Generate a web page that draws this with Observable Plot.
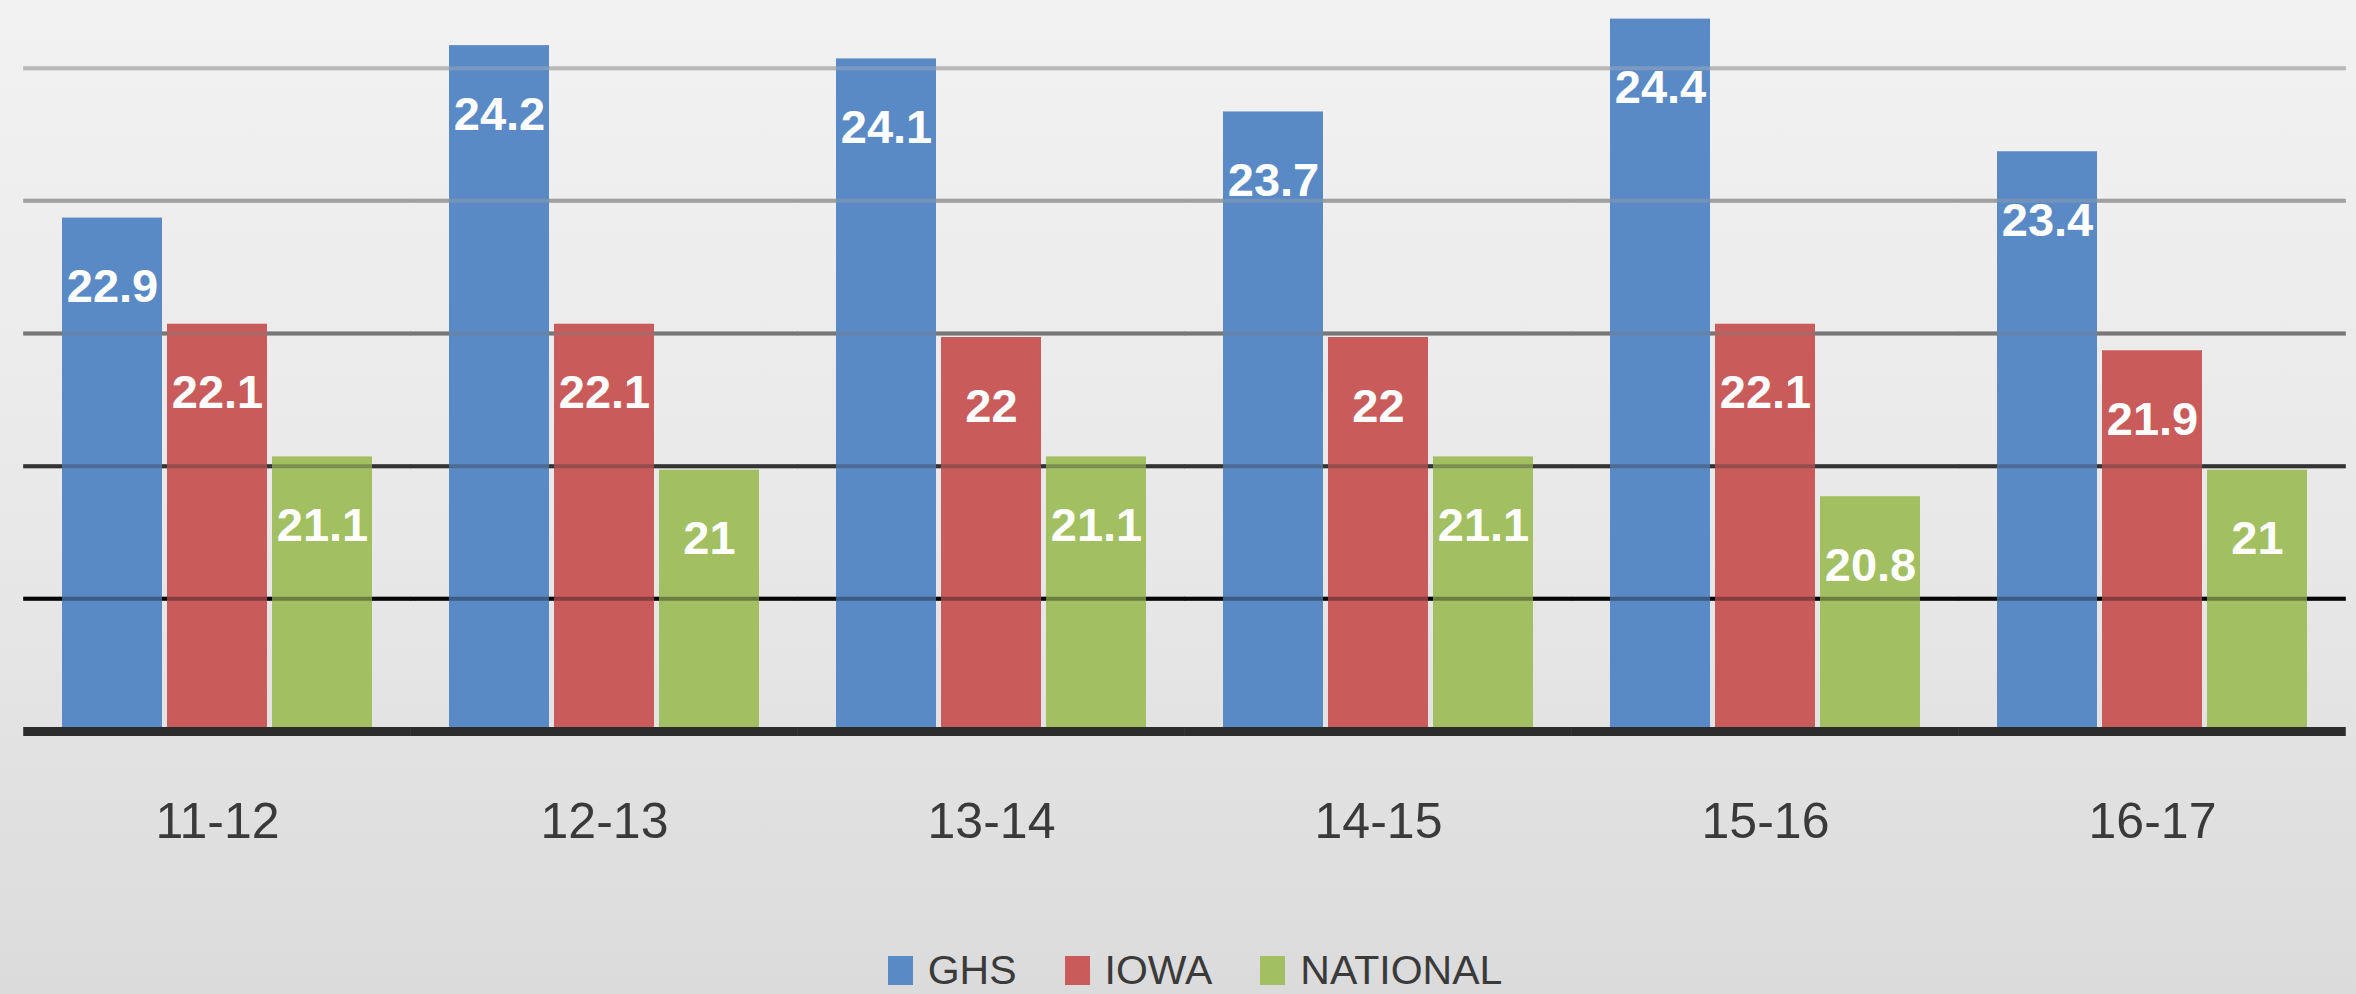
<!DOCTYPE html>
<html>
<head>
<meta charset="utf-8">
<script src="https://cdn.jsdelivr.net/npm/d3@7"></script>
<script src="https://cdn.jsdelivr.net/npm/@observablehq/plot@0.6"></script>
<style>
  html, body { margin: 0; padding: 0; width: 2356px; height: 994px; overflow: hidden; }
  body {
    background: linear-gradient(to bottom, #f2f2f2 0%, #e8e8e8 55%, #dbdbdb 100%);
    font-family: "Liberation Sans", Arial, sans-serif;
  }
  #chart svg { display: block; background: transparent; }
  #legend {
    display: flex; justify-content: center; align-items: flex-start;
    height: 114px; box-sizing: border-box; padding-left: 34px; padding-top: 70px;
    font-size: 41px; line-height: 41px; color: #3a3a3a;
  }
  .item { display: flex; align-items: center; margin-right: 48px; }
  .item:last-child { margin-right: 0; }
  .sw { width: 25px; height: 29px; margin-right: 15px; }
</style>
</head>
<body>
<div id="chart"></div>
<div id="legend"></div>
<script>
// ---- data ----
const seasons = ["11-12", "12-13", "13-14", "14-15", "15-16", "16-17"];
const seriesNames = ["GHS", "IOWA", "NATIONAL"];
const ghs = [22.9, 24.2, 24.1, 23.7, 24.4, 23.4];
const iowa = [22.1, 22.1, 22, 22, 22.1, 21.9];
const national = [21.1, 21, 21.1, 21.1, 20.8, 21];
const gridValues = [20, 21, 22, 23, 24];

// ---- styles ----
const seriesColors = ["#5a8ac6", "#c95c5b", "#a2bf62"];
const gridColors = {20: "#050505", 21: "#333333", 22: "#777777", 23: "#a0a0a0", 24: "#b8b8b8"};

const seriesValues = [ghs, iowa, national];
const rows = seasons.flatMap((s, i) =>
  seriesNames.map((name, j) => ({season: s, series: name, value: seriesValues[j][i]}))
);

const W = 2356, H = 880;
const mL = 21, mR = 9;
const padInner = 0.2, padOuter = 0.1;
// facet step; outer padding equals half the inner gap, so extending each
// facet's rules by half a gap makes them continuous across the whole frame
const step = (W - mL - mR) / (seasons.length - padInner + 2 * padOuter);
const ext = -step * padInner / 2;

const chart = Plot.plot({
  width: W,
  height: H,
  marginTop: 0,
  marginLeft: mL,
  marginRight: mR,
  marginBottom: H - 731,
  style: {background: "transparent", fontFamily: "'Liberation Sans', Arial, sans-serif", overflow: "visible"},
  fx: {domain: seasons, paddingInner: padInner, paddingOuter: padOuter, axis: null, label: null},
  x: {domain: seriesNames, paddingInner: 0.05, paddingOuter: 0, axis: null},
  y: {domain: [19, 24.51], axis: null},
  color: {domain: seriesNames, range: seriesColors},
  marks: [
    // gridlines behind the bars
    ...gridValues.map(v => Plot.ruleY(seasons, {fx: d => d, y: () => v, stroke: gridColors[v], strokeWidth: 4, insetLeft: ext, insetRight: ext})),
    Plot.barY(rows, {fx: "season", x: "series", y1: 19, y2: "value", fill: "series", insetTop: 4}),
    // gridlines showing faintly through the bars
    ...gridValues.map(v => Plot.ruleY(seasons, {fx: d => d, y: () => v, stroke: gridColors[v], strokeWidth: 4, strokeOpacity: 0.35, insetLeft: ext, insetRight: ext})),
    // baseline
    Plot.ruleY(seasons, {fx: d => d, y: () => 19, stroke: "#2c2c2c", strokeWidth: 9, insetLeft: ext, insetRight: ext}),
    Plot.text(rows, {
      fx: "season", x: "series", y: "value",
      text: d => String(d.value),
      dy: 73, fill: "white", fontSize: 47, fontWeight: "bold"
    }),
    Plot.axisFx({anchor: "bottom", tickSize: 0, tickPadding: 71, fontSize: 50, color: "#3a3a3a", label: null})
  ]
});
document.getElementById("chart").appendChild(chart);

// legend
const legend = document.getElementById("legend");
seriesNames.forEach((name, j) => {
  const item = document.createElement("div");
  item.className = "item";
  const sw = document.createElement("div");
  sw.className = "sw";
  sw.style.background = seriesColors[j];
  const label = document.createElement("span");
  label.textContent = name;
  item.appendChild(sw);
  item.appendChild(label);
  legend.appendChild(item);
});
</script>
</body>
</html>
